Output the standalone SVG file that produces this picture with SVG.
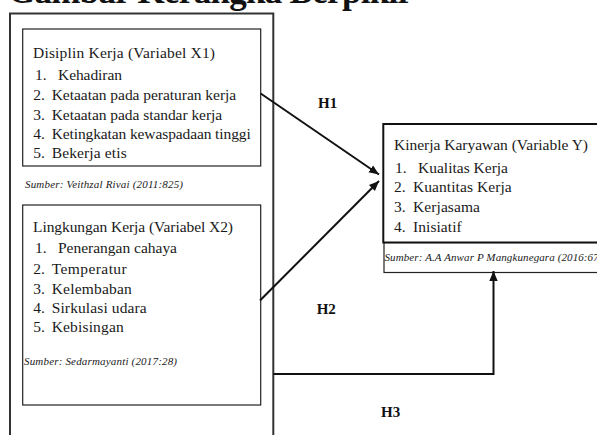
<svg xmlns="http://www.w3.org/2000/svg" width="597" height="435" viewBox="0 0 597 435">
<style>
  .t{font-family:"Liberation Serif","Times New Roman",serif;font-size:15.5px;fill:#1a1a1a}
  .s{font-family:"Liberation Serif","Times New Roman",serif;font-size:11px;font-style:italic;fill:#1a1a1a}
  .h{font-family:"Liberation Serif","Times New Roman",serif;font-size:15px;font-weight:bold;fill:#111}
  .ttl{font-family:"Liberation Serif","Times New Roman",serif;font-size:35px;font-weight:bold;fill:#111}
  .box{fill:#fff;stroke:#222;stroke-width:1.2}
  .ybox{fill:#fff;stroke:#111;stroke-width:2}
  .con{fill:none;stroke:#111;stroke-width:2}
</style>
<defs>
  <marker id="ah" markerUnits="userSpaceOnUse" markerWidth="12" markerHeight="10" refX="10" refY="5" orient="auto">
    <path d="M0,0.8 L10,5 L0,9.2 Z" fill="#111"/>
  </marker>
</defs>
<rect width="597" height="435" fill="#fff"/>
<text class="ttl" x="8" y="3" textLength="405" lengthAdjust="spacing">Gambar Kerangka Berpikir</text>
<g id="frame">
  <path d="M10,440 V13.5 H273.3 V440" fill="none" stroke="#333" stroke-width="2"/>
</g>
<g id="x1">
  <rect class="box" x="22.7" y="29" width="238" height="137"/>
  <text class="t" x="33" y="57.5" textLength="182" lengthAdjust="spacing">Disiplin Kerja (Variabel X1)</text>
  <text class="t" x="35" y="80">1.</text><text class="t" x="58" y="80" textLength="64" lengthAdjust="spacing">Kehadiran</text>
  <text class="t" x="33.3" y="100">2.</text><text class="t" x="51.7" y="100" textLength="184.5" lengthAdjust="spacing">Ketaatan pada peraturan kerja</text>
  <text class="t" x="33.3" y="120">3.</text><text class="t" x="51.7" y="120" textLength="170.5" lengthAdjust="spacing">Ketaatan pada standar kerja</text>
  <text class="t" x="33.3" y="139">4.</text><text class="t" x="51.7" y="139" textLength="199" lengthAdjust="spacing">Ketingkatan kewaspadaan tinggi</text>
  <text class="t" x="33.3" y="158">5.</text><text class="t" x="51.7" y="158" textLength="75" lengthAdjust="spacing">Bekerja etis</text>
  <text class="s" x="25" y="188" textLength="158" lengthAdjust="spacing">Sumber: Veithzal Rivai (2011:825)</text>
</g>
<g id="x2">
  <rect class="box" x="22.7" y="205" width="238" height="200"/>
  <text class="t" x="33" y="232.3" textLength="200" lengthAdjust="spacing">Lingkungan Kerja (Variabel X2)</text>
  <text class="t" x="35" y="253.3">1.</text><text class="t" x="58" y="253.3" textLength="119" lengthAdjust="spacing">Penerangan cahaya</text>
  <text class="t" x="33.3" y="274.3">2.</text><text class="t" x="51.7" y="274.3" textLength="75" lengthAdjust="spacing">Temperatur</text>
  <text class="t" x="33.3" y="294.3">3.</text><text class="t" x="51.7" y="294.3" textLength="80" lengthAdjust="spacing">Kelembaban</text>
  <text class="t" x="33.3" y="313.3">4.</text><text class="t" x="51.7" y="313.3" textLength="95" lengthAdjust="spacing">Sirkulasi udara</text>
  <text class="t" x="33.3" y="332.3">5.</text><text class="t" x="51.7" y="332.3" textLength="72" lengthAdjust="spacing">Kebisingan</text>
  <text class="s" x="24" y="365" textLength="153" lengthAdjust="spacing">Sumber: Sedarmayanti (2017:28)</text>
</g>
<g id="y">
  <rect class="box" x="384" y="242.5" width="220" height="30"/>
  <rect class="ybox" x="383.3" y="124" width="220" height="118.5"/>
  <text class="t" x="394" y="150" textLength="194" lengthAdjust="spacing">Kinerja Karyawan (Variable Y)</text>
  <text class="t" x="395" y="173.3">1.</text><text class="t" x="418" y="173.3" textLength="90" lengthAdjust="spacing">Kualitas Kerja</text>
  <text class="t" x="394" y="192.3">2.</text><text class="t" x="413" y="192.3" textLength="98.7" lengthAdjust="spacing">Kuantitas Kerja</text>
  <text class="t" x="394" y="211.7">3.</text><text class="t" x="413" y="211.7" textLength="67" lengthAdjust="spacing">Kerjasama</text>
  <text class="t" x="394" y="231.7">4.</text><text class="t" x="413" y="231.7" textLength="48.7" lengthAdjust="spacing">Inisiatif</text>
  <text class="s" x="384.5" y="260.7" textLength="218" lengthAdjust="spacing">Sumber: A.A Anwar P Mangkunegara (2016:67)</text>
</g>
<g id="connectors">
  <line class="con" x1="260.7" y1="93.5" x2="379" y2="174.5" marker-end="url(#ah)"/>
  <line class="con" x1="260" y1="300.5" x2="379" y2="181" marker-end="url(#ah)"/>
  <path class="con" d="M273.3,374 H493.5 V271" marker-end="url(#ah)"/>
  <text class="h" x="318" y="108.3">H1</text>
  <text class="h" x="316.7" y="314">H2</text>
  <text class="h" x="381" y="416.7">H3</text>
</g>
</svg>
